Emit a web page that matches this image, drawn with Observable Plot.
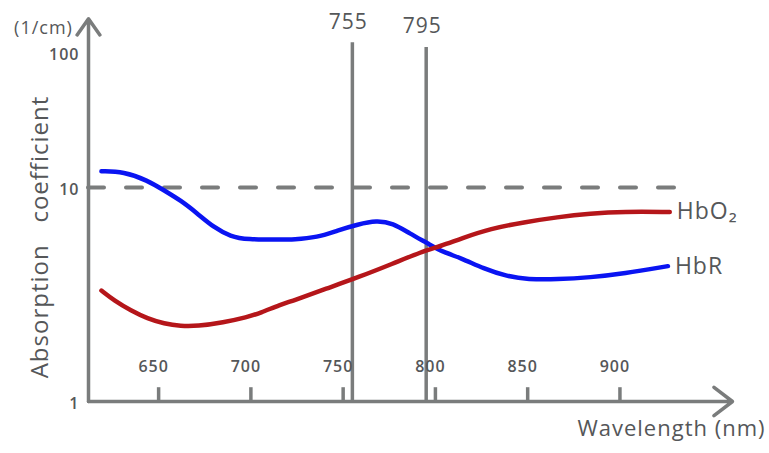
<!DOCTYPE html>
<html>
<head>
<meta charset="utf-8">
<script src="https://cdn.jsdelivr.net/npm/d3@7"></script>
<script src="https://cdn.jsdelivr.net/npm/@observablehq/plot@0.6"></script>
<style>
  body { margin: 0; background: #fff; }
  svg { display: block; }
  svg text { letter-spacing: 1px; }
</style>
</head>
<body>
<div id="chart"></div>
<script>
// ---- data ----
const hbRWavelength = [619, 631, 644, 653, 662, 671, 680, 689, 698, 716, 723, 736, 747, 758, 768, 777, 786, 796, 804, 814, 826, 839, 850, 866, 884, 902, 926];
const hbRValue      = [13.2, 13.1, 11.3, 9.68, 8.70, 7.56, 6.50, 5.90, 5.71, 5.71, 5.71, 5.84, 6.30, 6.72, 7.01, 6.81, 6.10, 5.47, 4.99, 4.68, 4.18, 3.84, 3.72, 3.72, 3.80, 3.96, 4.29];
const hbO2Wavelength = [619, 626, 635, 644, 653, 662, 671, 685, 698, 705, 716, 723, 741, 758, 777, 792, 803, 814, 830, 848, 866, 884, 902, 927];
const hbO2Value      = [3.30, 2.96, 2.66, 2.44, 2.31, 2.25, 2.25, 2.34, 2.48, 2.59, 2.84, 2.96, 3.37, 3.80, 4.41, 4.99, 5.33, 5.78, 6.43, 6.88, 7.27, 7.56, 7.72, 7.68];
const seriesNames = ["HbO\u2082", "HbR"];
const xTicks = [650, 700, 750, 800, 850, 900];
const yTicks = [1, 10, 100];
const yTickLabels = ["1", "10", "100"];
const markerWavelengths = [755, 795];
const markerTops = [118, 109];
const referenceLevel = 10;
const referenceEnd = 934;
const xDomain = [612, 961];
const yAxisTop = 178;
const tickReach = 1.16;

const gray = "#7a7c7c";
const textGray = "#555759";
const blue = "#0a14f2";
const red = "#b5161a";

const hbR = hbRWavelength.map((w, i) => ({w, v: hbRValue[i]}));
const hbO2 = hbO2Wavelength.map((w, i) => ({w, v: hbO2Value[i]}));
const markers = markerWavelengths.map((w, i) => ({w, top: markerTops[i]}));
const ends = [
  {...hbO2[hbO2.length - 1], name: seriesNames[0]},
  {...hbR[hbR.length - 1], name: seriesNames[1]}
];

const font = "'Open Sans', sans-serif";

const chart = Plot.plot({
  width: 769,
  height: 453,
  margin: 0,
  style: {fontFamily: font, background: "#fff", color: textGray},
  x: {domain: xDomain, range: [88, 732], axis: null},
  y: {type: "log", domain: yTicks, range: [401, 187, 52], axis: null},
  marks: [
    // dashed reference line at 10
    Plot.ruleY([referenceLevel], {x1: xDomain[0], x2: referenceEnd, stroke: gray, strokeWidth: 4, strokeDasharray: "16,22", strokeLinecap: "round"}),
    // wavelength markers
    Plot.ruleX(markers, {x: "w", y1: 1, y2: "top", stroke: gray, strokeWidth: 3.5}),
    Plot.text(markers, {x: "w", y: "top", dx: -4, dy: -21, text: d => String(d.w), fontSize: 21, fill: textGray}),
    // x ticks
    Plot.ruleX(xTicks, {x: d => d, y1: 1, y2: tickReach, stroke: gray, strokeWidth: 3.5}),
    Plot.text(xTicks, {x: d => d, y: 1, dx: -5, dy: -35, text: d => String(d), fontSize: 16, fontWeight: 600, fill: textGray}),
    // y tick labels
    Plot.text(yTicks, {x: xDomain[0], y: d => d, dx: -9, dy: 2, textAnchor: "end", text: (d, i) => yTickLabels[i], fontSize: 16, fontWeight: 600, fill: textGray}),
    // axes with arrowheads
    Plot.arrow([0], {x1: xDomain[0], y1: 1, x2: xDomain[1], y2: 1, stroke: gray, strokeWidth: 3.5, headLength: 10, headAngle: 75}),
    Plot.arrow([0], {x1: xDomain[0], y1: 1, x2: xDomain[0], y2: yAxisTop, stroke: gray, strokeWidth: 3.5, headLength: 8.5, headAngle: 70}),
    // series
    Plot.line(hbR, {x: "w", y: "v", stroke: blue, strokeWidth: 4.5, curve: "basis", strokeLinecap: "round"}),
    Plot.line(hbO2, {x: "w", y: "v", stroke: red, strokeWidth: 4.5, curve: "basis", strokeLinecap: "round"}),
    Plot.text(ends, {x: "w", y: "v", dx: 7, textAnchor: "start", text: "name", fontSize: 23, fill: textGray}),
    // titles
    Plot.text(["Absorption   coefficient"], {frameAnchor: "left", dx: 40, dy: 10, rotate: -90, textAnchor: "middle", lineAnchor: "middle", fontSize: 24, fill: textGray}),
    Plot.text(["(1/cm)"], {frameAnchor: "top-left", dx: 43, dy: 28, textAnchor: "middle", lineAnchor: "middle", fontSize: 18, fill: textGray}),
    Plot.text(["Wavelength (nm)"], {frameAnchor: "bottom-right", dx: -98, dy: -25, textAnchor: "middle", lineAnchor: "middle", fontSize: 22, fill: textGray})
  ]
});
document.getElementById("chart").append(chart);
</script>
</body>
</html>
